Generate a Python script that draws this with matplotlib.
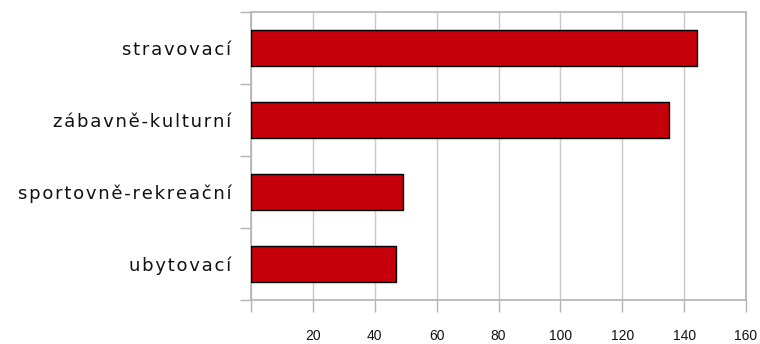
import matplotlib
matplotlib.use("Agg")
import matplotlib.pyplot as plt
import numpy as np

categories = ["stravovací", "zábavně-kulturní", "sportovně-rekreační", "ubytovací"]
values = [144, 135, 49, 47]
xticks = [0, 20, 40, 60, 80, 100, 120, 140, 160]
xlabels = ["", "20", "40", "60", "80", "100", "120", "140", "160"]

frame = "#b3b3b3"
grid = "#c8c8c8"

fig = plt.figure(figsize=(7.6, 3.44), dpi=100)
ax = fig.add_axes([251 / 760, 44 / 344, 495 / 760, 288 / 344])

y = np.arange(len(categories))
ax.barh(y, values, height=0.5, color="#c5000b", edgecolor="black", linewidth=1, zorder=3)

ax.set_xlim(0, 160)
ax.set_ylim(len(categories) - 0.5, -0.5)

ax.set_xticks(xticks)
ax.set_xticklabels(xlabels, fontfamily="Liberation Sans", fontsize=10, color="#111111")
ax.tick_params(axis="x", length=8.6, width=1, color=frame, pad=12.5)
ax.xaxis.grid(True, color=grid, linewidth=1, zorder=0)

# category labels with a bit of letter spacing
spaced = ["\u200a".join(c) for c in categories]
ax.set_yticks(y)
ax.set_yticklabels(spaced, fontfamily="DejaVu Sans", fontsize=13, color="#111111")
ax.tick_params(axis="y", which="major", length=0, pad=14)
ax.set_yticks(np.arange(-0.5, len(categories)), minor=True)
ax.tick_params(axis="y", which="minor", length=8, width=1, color=frame)

for s in ax.spines.values():
    s.set_color(frame)
    s.set_linewidth(1.2)

fig.savefig("out.png", dpi=100)
